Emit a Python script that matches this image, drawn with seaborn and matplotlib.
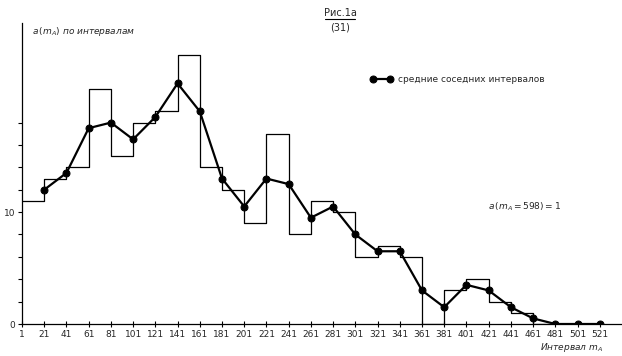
import numpy as np
import pandas as pd
import matplotlib
matplotlib.use("Agg")
import matplotlib.pyplot as plt
from matplotlib.lines import Line2D
import seaborn as sns

# interval edges (m_A) and counts per interval
edges = [1, 21, 41, 61, 81, 101, 121, 141, 161, 181, 201, 221, 241, 261, 281,
         301, 321, 341, 361, 381, 401, 421, 441, 461, 481]
counts = [11, 13, 14, 21, 15, 18, 19, 24, 14, 12, 9, 17, 8, 11, 10,
          6, 7, 6, 0, 3, 4, 2, 1, 0]
# means of neighbouring intervals, plotted at interval boundaries
mean_x = [21, 41, 61, 81, 101, 121, 141, 161, 181, 201, 221, 241, 261, 281, 301,
          321, 341, 361, 381, 401, 421, 441, 461, 481, 501, 521]
mean_y = [12, 13.5, 17.5, 18, 16.5, 18.5, 21.5, 19, 13, 10.5, 13, 12.5, 9.5, 10.5, 8,
          6.5, 6.5, 3, 1.5, 3.5, 3, 1.5, 0.5, 0, 0, 0]
xticks = list(range(1, 522, 20))
yticks = list(range(0, 19, 2))

sns.set_theme(style="white")
plt.rcParams['font.family'] = ['DejaVu Sans']

fig = plt.figure(figsize=(6.22, 3.56), dpi=100)
ax = fig.add_axes([22/622, 32/356, 600/622, 301/356])

centers = [e + 10 for e in edges[:-1]]
sns.histplot(x=centers, weights=counts, bins=edges, element="step", fill=False,
             color="black", linewidth=0.9, ax=ax)
df = pd.DataFrame({"x": mean_x, "y": mean_y})
sns.lineplot(data=df, x="x", y="y", marker="o", markersize=5, color="black",
             linewidth=1.6, markeredgecolor="black", ax=ax,
             label="средние соседних интервалов")

ax.set_xlim(1, 541)
ax.set_ylim(0, 26.9)
ax.set_xticks(xticks)
ax.set_xticklabels([str(t) for t in xticks], fontsize=6.5)
ax.set_yticks(yticks)
ax.set_yticklabels(["0" if t == 0 else ("10" if t == 10 else "") for t in yticks],
                   fontsize=6.5)
ax.tick_params(axis="x", direction="inout", length=5, width=0.8, color="black",
               bottom=True, pad=2)
ax.tick_params(axis="y", direction="out", length=3, width=0.8, color="black",
               left=True, pad=2)
ax.set_xlabel("")
ax.set_ylabel("")
for s in ["top", "right"]:
    ax.spines[s].set_visible(False)
for s in ["left", "bottom"]:
    ax.spines[s].set_color("black")
    ax.spines[s].set_linewidth(0.9)

leg = ax.legend(loc="center left", bbox_to_anchor=(362/622, 1 - 80/356),
                bbox_transform=fig.transFigure, frameon=False, numpoints=2,
                fontsize=6.5, handlelength=2.5, handletextpad=0.6)

fig.text(340/622, 1 - 13/356, "Рис.1а", ha="center", va="center", fontsize=7)
fig.add_artist(Line2D([325/622, 355/622], [1 - 19/356, 1 - 19/356],
                      color="black", linewidth=0.8, transform=fig.transFigure))
fig.text(340/622, 1 - 28/356, "(31)", ha="center", va="center", fontsize=7)
fig.text(32/622, 1 - 32/356, "$a\\,(m_A)$ по интервалам", ha="left", va="center",
         fontsize=6.5, style="italic")
fig.text(488/622, 1 - 207/356, "$a\\,(m_A = 598) = 1$", ha="left", va="center",
         fontsize=6.5, style="italic")
fig.text(540/622, 1 - 348/356, "Интервал $m_A$", ha="left", va="center",
         fontsize=6.5, style="italic")

fig.savefig("out.png", dpi=100)
